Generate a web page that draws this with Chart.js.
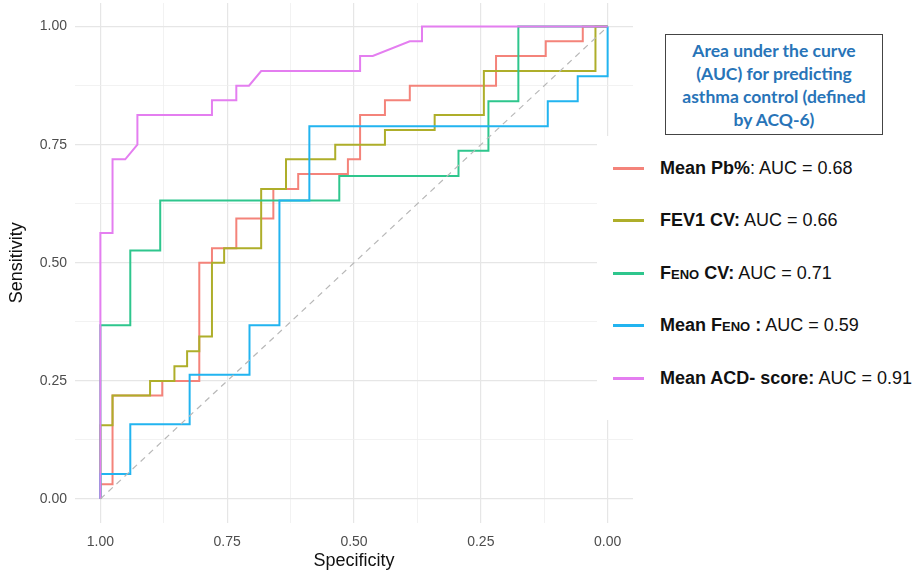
<!DOCTYPE html>
<html>
<head>
<meta charset="utf-8">
<script src="https://cdn.jsdelivr.net/npm/chart.js@4.4.1/dist/chart.umd.min.js"></script>
<style>
    body { margin: 0; background: #fff; }
    #wrap { position: relative; width: 921px; height: 572px; overflow: hidden; }
    #roc { position: absolute; left: 0; top: 0; }
    .title-box {
        position: absolute; left: 665px; top: 34px; width: 216px; height: 99px;
        border: 1.5px solid #444; background: #fff;
        font-family: Lato, "Open Sans", sans-serif; font-weight: bold; font-size: 17.5px;
        line-height: 23px; color: #2874b8; text-align: center;
        display: flex; align-items: center; justify-content: center;
    }
    .legend {
        position: absolute; left: 597px; top: 136px; width: 324px; height: 284px;
        background: #fff;
        font-family: "Liberation Sans", Arial, sans-serif; font-size: 18px; color: #111;
    }
    .legend .row { position: absolute; left: 0; height: 24px; display: flex; align-items: center; white-space: nowrap; }
    .legend .key { width: 31px; height: 3px; margin-left: 16px; margin-right: 16px; }
    .sc { font-size: 13px; }
</style>
</head>
<body>
<div id="wrap">
    <canvas id="roc" width="921" height="572"></canvas>
    <div class="title-box"><div>Area under the curve<br>(AUC) for predicting<br>asthma control (defined<br>by ACQ-6)</div></div>
    <div class="legend" id="legend"></div>
</div>
<script>
// ROC curves: specificity (x, reversed) and sensitivity (y)
const pbSpec  = [1.00, 1.00, 0.976, 0.976, 0.878, 0.878, 0.805, 0.805, 0.780, 0.780, 0.732, 0.732, 0.659, 0.659, 0.610, 0.610, 0.512, 0.512, 0.488, 0.488, 0.439, 0.439, 0.390, 0.390, 0.220, 0.220, 0.122, 0.122, 0.049, 0.049, 0.00];
const pbSens  = [0.00, 0.031, 0.031, 0.219, 0.219, 0.25, 0.25, 0.50, 0.50, 0.531, 0.531, 0.594, 0.594, 0.656, 0.656, 0.688, 0.688, 0.719, 0.719, 0.813, 0.813, 0.844, 0.844, 0.875, 0.875, 0.938, 0.938, 0.969, 0.969, 1.00, 1.00];

const fevSpec = [1.00, 1.00, 0.976, 0.976, 0.902, 0.902, 0.854, 0.854, 0.829, 0.829, 0.805, 0.805, 0.780, 0.780, 0.756, 0.756, 0.683, 0.683, 0.634, 0.634, 0.537, 0.537, 0.439, 0.439, 0.341, 0.341, 0.244, 0.244, 0.024, 0.024, 0.00];
const fevSens = [0.00, 0.156, 0.156, 0.219, 0.219, 0.25, 0.25, 0.281, 0.281, 0.313, 0.313, 0.344, 0.344, 0.50, 0.50, 0.531, 0.531, 0.656, 0.656, 0.719, 0.719, 0.75, 0.75, 0.781, 0.781, 0.813, 0.813, 0.906, 0.906, 1.00, 1.00];

const fenoCvSpec = [1.00, 1.00, 0.941, 0.941, 0.882, 0.882, 0.529, 0.529, 0.294, 0.294, 0.235, 0.235, 0.176, 0.176, 0.00];
const fenoCvSens = [0.00, 0.368, 0.368, 0.526, 0.526, 0.632, 0.632, 0.684, 0.684, 0.737, 0.737, 0.842, 0.842, 1.00, 1.00];

const fenoSpec = [1.00, 1.00, 0.941, 0.941, 0.824, 0.824, 0.706, 0.706, 0.647, 0.647, 0.588, 0.588, 0.118, 0.118, 0.059, 0.059, 0.00, 0.00];
const fenoSens = [0.00, 0.053, 0.053, 0.158, 0.158, 0.263, 0.263, 0.368, 0.368, 0.632, 0.632, 0.789, 0.789, 0.842, 0.842, 0.895, 0.895, 1.00];

const acdSpec = [1.00, 1.00, 0.976, 0.976, 0.951, 0.927, 0.927, 0.780, 0.780, 0.732, 0.732, 0.707, 0.683, 0.488, 0.488, 0.463, 0.390, 0.366, 0.366, 0.00];
const acdSens = [0.00, 0.563, 0.563, 0.719, 0.719, 0.75, 0.813, 0.813, 0.844, 0.844, 0.875, 0.875, 0.906, 0.906, 0.938, 0.938, 0.969, 0.969, 1.00, 1.00];

const refSpec = [1.00, 0.00];
const refSens = [0.00, 1.00];

const seriesNames = ['Mean Pb%', 'FEV1 CV', 'FENO CV', 'Mean FENO', 'Mean ACD- score'];
const aucValues = ['0.68', '0.66', '0.71', '0.59', '0.91'];
const seriesColors = ['#f4837a', '#aeae2a', '#2ec68d', '#22b4f0', '#e47ef0'];

const tickValues = [0, 0.125, 0.25, 0.375, 0.5, 0.625, 0.75, 0.875, 1];
const xTickLabels = { 0: '0.00', 0.25: '0.25', 0.5: '0.50', 0.75: '0.75', 1: '1.00' };
const yTickLabels = { 0: '0.00', 0.25: '0.25', 0.5: '0.50', 0.75: '0.75', 1: '1.00' };

function toPoints(xs, ys) {
    return xs.map((x, i) => ({ x: x, y: ys[i] }));
}

const curves = [
    [pbSpec, pbSens],
    [fevSpec, fevSens],
    [fenoCvSpec, fenoCvSens],
    [fenoSpec, fenoSens],
    [acdSpec, acdSens]
];

const datasets = curves.map((c, i) => ({
    label: seriesNames[i],
    data: toPoints(c[0], c[1]),
    borderColor: seriesColors[i],
    borderWidth: 2,
    pointRadius: 0,
    tension: 0,
    fill: false,
    order: 5 - i
}));

datasets.push({
    label: 'reference',
    data: toPoints(refSpec, refSens),
    borderColor: '#b8b8b8',
    borderWidth: 1.2,
    borderDash: [6, 5],
    pointRadius: 0,
    fill: false,
    order: 0
});

function isMajor(v) {
    return Math.abs(v * 4 - Math.round(v * 4)) < 1e-6;
}

const gridOpts = {
    drawTicks: false,
    color: ctx => ctx.tick && isMajor(ctx.tick.value) ? '#e6e6e6' : '#efefef',
    lineWidth: ctx => ctx.tick && isMajor(ctx.tick.value) ? 1.2 : 0.8
};

new Chart(document.getElementById('roc'), {
    type: 'line',
    data: { datasets: datasets },
    options: {
        responsive: false,
        animation: false,
        devicePixelRatio: 1,
        layout: { padding: { top: 3, right: 288, left: 0, bottom: 0 } },
        plugins: { legend: { display: false }, tooltip: { enabled: false } },
        scales: {
            x: {
                type: 'linear',
                reverse: true,
                min: -0.05,
                max: 1.05,
                border: { display: false },
                grid: gridOpts,
                afterBuildTicks: s => { s.ticks = tickValues.map(v => ({ value: v })); },
                afterFit: s => { s.height = 49.4; },
                ticks: {
                    autoSkip: false,
                    maxRotation: 0,
                    padding: 11,
                    color: '#4d4d4d',
                    font: { family: '"Liberation Sans", Arial, sans-serif', size: 14 },
                    callback: v => xTickLabels[v] || ''
                },
                title: {
                    display: true,
                    text: 'Specificity',
                    color: '#111',
                    padding: 0,
                    font: { family: '"Liberation Sans", Arial, sans-serif', size: 18 }
                }
            },
            y: {
                type: 'linear',
                min: -0.05,
                max: 1.05,
                border: { display: false },
                grid: Object.assign({}, gridOpts, { drawTicks: true, tickLength: 8, tickColor: 'rgba(0,0,0,0)' }),
                afterBuildTicks: s => { s.ticks = tickValues.map(v => ({ value: v })); },
                afterFit: s => { s.width = 75; },
                ticks: {
                    autoSkip: false,
                    padding: 0,
                    color: '#4d4d4d',
                    font: { family: '"Liberation Sans", Arial, sans-serif', size: 14, lineHeight: 0.4 },
                    callback: v => yTickLabels[v] || ''
                },
                title: {
                    display: true,
                    text: 'Sensitivity',
                    color: '#111',
                    padding: { top: 6, bottom: 0 },
                    font: { family: '"Liberation Sans", Arial, sans-serif', size: 18 }
                }
            }
        }
    }
});

// Legend with bold names, drawn as real text
const legendRows = [
    '<b>Mean Pb%</b>: AUC = ' + aucValues[0],
    '<b>FEV1 CV:</b> AUC = ' + aucValues[1],
    '<b>F<span class="sc">ENO</span> CV:</b> AUC = ' + aucValues[2],
    '<b>Mean F<span class="sc">ENO</span> :</b> AUC = ' + aucValues[3],
    '<b>Mean ACD- score:</b> AUC = ' + aucValues[4]
];
const legend = document.getElementById('legend');
legend.innerHTML = legendRows.map((txt, i) => `
    <div class="row" style="top:${20 + i * 52.5}px">
        <div class="key" style="background:${seriesColors[i]}"></div>
        <div>${txt}</div>
    </div>`).join('');
</script>
</body>
</html>
